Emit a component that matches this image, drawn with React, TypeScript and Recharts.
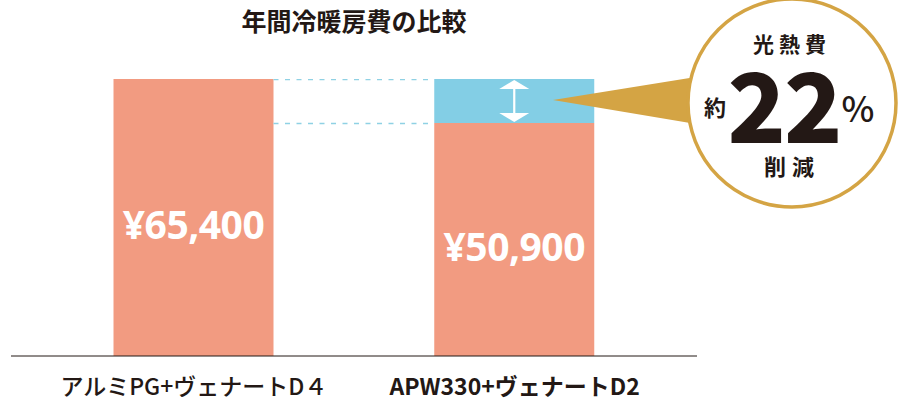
import React from "react";
import { BarChart, Bar, XAxis, YAxis, LabelList } from "recharts";

// 比較する2つの仕様
const categories = ["アルミPG+ヴェナートD４", "APW330+ヴェナートD2"];
// 年間冷暖房費（円）
const annualCost = [65400, 50900];
const reductionText = "22";

const INK = "#231815";
const SALMON = "#F29B81";
const BLUE = "#83CEE5";
const GOLD = "#D4A444";
const JP = "'Noto Sans CJK JP', 'Noto Sans', sans-serif";

const W = 900;
const H = 420;
const margin = { top: 79, right: 203, bottom: 24, left: 11 };
const padL = 22.5;
const padR = 22;
const barSize = 160;

const baseCost = Math.max(...annualCost);
const data = categories.map((name, i) => ({
  name,
  cost: annualCost[i],
  saved: baseCost - annualCost[i],
}));

const plotW = W - margin.left - margin.right;
const band = (plotW - padL - padR) / categories.length;
const gap = band - barSize;

const yen = (v: number) => "¥" + v.toLocaleString("en-US");

const AxisTick = (props: any) => {
  const { x, y, payload, index } = props;
  return (
    <text
      x={x}
      y={y}
      dy={31}
      textAnchor="middle"
      fontFamily={JP}
      fontSize={23}
      fontWeight={index === 1 ? 700 : 500}
      fill={INK}
    >
      {payload.value}
    </text>
  );
};

const CostLabel = (props: any) => {
  const { x, y, width, height, value } = props;
  return (
    <text
      x={x + width / 2}
      y={y + height / 2 + 21.5}
      textAnchor="middle"
      fontFamily="'Open Sans', sans-serif"
      fontWeight={700}
      fontSize={39}
      letterSpacing={-0.5}
      fill="#fff"
    >
      {yen(value)}
    </text>
  );
};

// 削減分（青）＋両矢印＋点線
const SavedShape = (props: any) => {
  const { x, y, width, height } = props;
  if (!height || height <= 0) return null;
  const cx = x + width / 2;
  const top = y;
  const bot = y + height;
  return (
    <g>
      <rect x={x} y={top} width={width} height={height} fill={BLUE} />
      <line x1={x - gap} x2={x} y1={top + 0.5} y2={top + 0.5} stroke="#8FD1E4" strokeWidth={1.3} strokeDasharray="5 6.5" />
      <line x1={x - gap} x2={x} y1={bot + 0.5} y2={bot + 0.5} stroke="#8FD1E4" strokeWidth={1.3} strokeDasharray="5 6.5" />
      <line x1={cx} x2={cx} y1={top + 6} y2={bot - 6} stroke="#fff" strokeWidth={2.2} />
      <polygon points={`${cx},${top + 1} ${cx - 15},${top + 10} ${cx + 15},${top + 10}`} fill="#fff" />
      <polygon points={`${cx},${bot - 1} ${cx - 15},${bot - 10} ${cx + 15},${bot - 10}`} fill="#fff" />
    </g>
  );
};

const Callout = () => (
  <svg width={W} height={H} style={{ position: "absolute", left: 0, top: 0, pointerEvents: "none" }}>
    <text x={354} y={31} textAnchor="middle" fontFamily={JP} fontWeight={700} fontSize={25} fill={INK}>
      年間冷暖房費の比較
    </text>
    <polygon points="553,100 702,76 702,125" fill={GOLD} />
    <circle cx={792} cy={103} r={104} fill="#fff" stroke={GOLD} strokeWidth={3.5} />
    <text x={792} y={52} textAnchor="middle" fontFamily={JP} fontWeight={700} fontSize={21} letterSpacing={5} fill={INK}>
      光熱費
    </text>
    <text x={715} y={116} textAnchor="middle" fontFamily={JP} fontWeight={700} fontSize={22} fill={INK}>
      約
    </text>
    <text x={784} y={143} textAnchor="middle" fontFamily={JP} fontWeight={900} fontSize={96} letterSpacing={-2} fill={INK}>
      {reductionText}
    </text>
    <text x={858} y={122} textAnchor="middle" fontFamily={JP} fontWeight={500} fontSize={35} fill={INK}>
      %
    </text>
    <text x={792} y={175} textAnchor="middle" fontFamily={JP} fontWeight={700} fontSize={22} letterSpacing={6} fill={INK}>
      削減
    </text>
  </svg>
);

export default function App() {
  return (
    <div style={{ position: "absolute", left: 0, top: 0, width: W, height: H, background: "#fff" }}>
      <BarChart width={W} height={H} data={data} margin={margin} barSize={barSize}>
        <XAxis
          dataKey="name"
          height={40}
          padding={{ left: padL, right: padR }}
          axisLine={{ stroke: INK, strokeWidth: 1 }}
          tickLine={false}
          tick={<AxisTick />}
          interval={0}
        />
        <YAxis hide scale="log" domain={[13500, baseCost]} allowDataOverflow />
        <Bar dataKey="cost" stackId="a" fill={SALMON} isAnimationActive={false}>
          <LabelList dataKey="cost" content={<CostLabel />} />
        </Bar>
        <Bar dataKey="saved" stackId="a" fill={BLUE} shape={<SavedShape />} isAnimationActive={false} />
      </BarChart>
      <Callout />
    </div>
  );
}
